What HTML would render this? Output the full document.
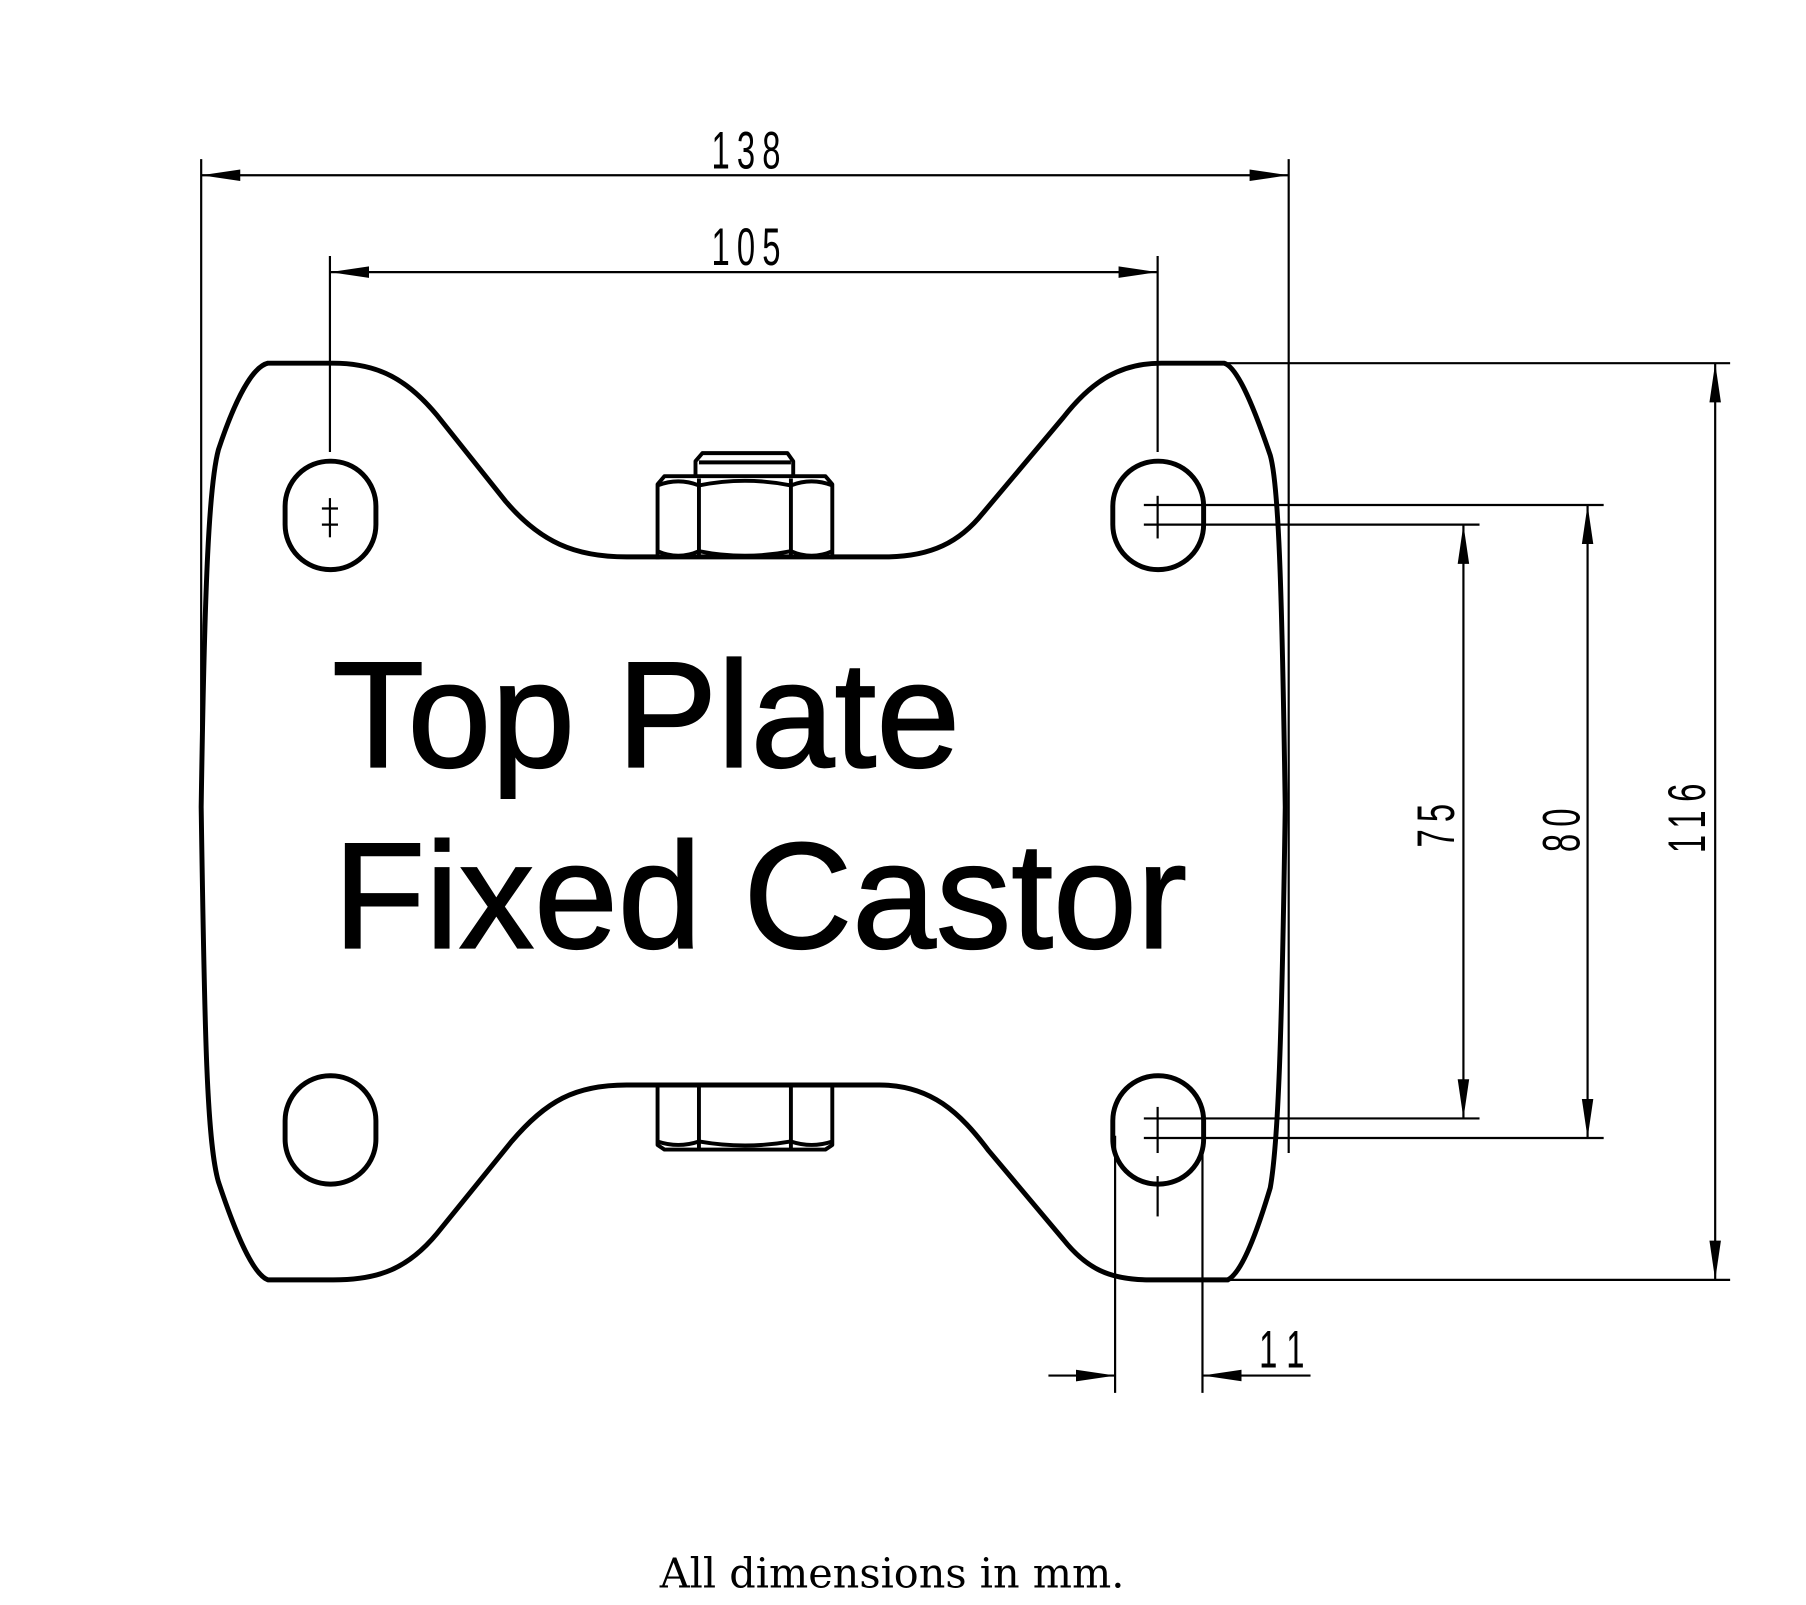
<!DOCTYPE html>
<html><head><meta charset="utf-8"><style>
html,body{margin:0;padding:0;background:#fff;}
svg{display:block}
</style></head><body>
<svg width="1806" height="1605" viewBox="0 0 1571 1392" preserveAspectRatio="none" xmlns="http://www.w3.org/2000/svg">
<rect width="1571" height="1392" fill="#fff"/>
<defs>
<marker id="a" viewBox="0 0 34 12" refX="34" refY="6" markerWidth="34" markerHeight="12" markerUnits="userSpaceOnUse" orient="auto-start-reverse">
<path d="M0,1 L34,6 L0,11 Z" fill="#000"/></marker>
</defs>
<g stroke="#000" stroke-width="1.9" fill="none">
<line x1="175" y1="138" x2="175" y2="690"/>
<line x1="1121" y1="138" x2="1121" y2="1000"/>
<line x1="175" y1="152" x2="1121" y2="152" marker-start="url(#a)" marker-end="url(#a)"/>
<line x1="287" y1="222" x2="287" y2="392"/>
<line x1="1007" y1="222" x2="1007" y2="392"/>
<line x1="287" y1="236" x2="1007" y2="236" marker-start="url(#a)" marker-end="url(#a)"/>
<line x1="1068" y1="315" x2="1505" y2="315"/>
<line x1="995" y1="438" x2="1395" y2="438"/>
<line x1="995" y1="455" x2="1287" y2="455"/>
<line x1="995" y1="970" x2="1287" y2="970"/>
<line x1="995" y1="987" x2="1395" y2="987"/>
<line x1="1068" y1="1110" x2="1505" y2="1110"/>
<line x1="1273" y1="455" x2="1273" y2="970" marker-start="url(#a)" marker-end="url(#a)"/>
<line x1="1381" y1="438" x2="1381" y2="987" marker-start="url(#a)" marker-end="url(#a)"/>
<line x1="1492" y1="315" x2="1492" y2="1110" marker-start="url(#a)" marker-end="url(#a)"/>
<line x1="970" y1="985" x2="970" y2="1208"/>
<line x1="1046" y1="995" x2="1046" y2="1208"/>
<line x1="912" y1="1193" x2="970" y2="1193" marker-end="url(#a)"/>
<line x1="1140" y1="1193" x2="1046" y2="1193" marker-end="url(#a)"/>
<line x1="287" y1="432" x2="287" y2="466"/>
<line x1="280" y1="441" x2="294" y2="441"/>
<line x1="280" y1="455" x2="294" y2="455"/>
<line x1="1007" y1="430" x2="1007" y2="467"/>
<line x1="1007" y1="960" x2="1007" y2="1000"/>
<line x1="1007" y1="1020" x2="1007" y2="1055"/>
</g>
<g stroke="#000" stroke-width="4.3" fill="none" stroke-linejoin="round">
<path d="M233,315 L290,315 C330,315 355,330 380,360 L440,435 C470,470 500,483 545,483 L770,483 C810,483 835,470 855,445 L925,362 C950,330 975,315 1010,315 L1065,315 C1075,318 1088,345 1105,395 C1112,420 1115,500 1118,700 C1115,900 1112,990 1105,1030 C1090,1080 1078,1105 1068,1110 L1000,1110 C965,1110 945,1100 925,1075 L860,998 C835,965 810,941 765,941 L545,941 C500,941 475,955 445,990 L380,1070 C355,1100 330,1110 290,1110 L233,1110 C220,1105 205,1070 190,1025 C180,990 178,900 175,700 C178,500 182,420 190,390 C205,345 220,318 233,315 Z"/>
<rect x="248" y="400" width="79" height="94" rx="39" ry="39"/>
<rect x="968" y="400" width="79" height="94" rx="39" ry="39"/>
<rect x="248" y="933" width="79" height="94" rx="39" ry="39"/>
<rect x="968" y="933" width="79" height="94" rx="39" ry="39"/>
</g>
<g stroke="#000" stroke-width="3.4" fill="none" stroke-linejoin="round">
<path d="M572,485 L572,420 L578,413 L718,413 L724,420 L724,485"/>
<line x1="608" y1="415" x2="608" y2="484"/>
<line x1="688" y1="415" x2="688" y2="484"/>
<path d="M572,421 Q590,414 608,421 Q648,413 688,421 Q706,414 724,421"/>
<path d="M572,478 Q590,486 608,478 Q648,486 688,478 Q706,486 724,478"/>
<path d="M605,412 L605,400 L611,393 L685,393 L690,400 L690,412"/>
<line x1="608" y1="401" x2="688" y2="401"/>
<path d="M572,943 L572,993 L578,997 L718,997 L724,993 L724,943"/>
<line x1="608" y1="943" x2="608" y2="996"/>
<line x1="688" y1="943" x2="688" y2="996"/>
<path d="M572,990 Q590,996 608,990 Q648,997 688,990 Q706,996 724,990"/>
</g>
<g font-family="'Liberation Sans Narrow','Liberation Sans',sans-serif" font-size="46" font-weight="300" fill="#000">
<text x="652" y="146" text-anchor="middle" transform="translate(652,0) scale(0.62,1) translate(-652,0)" letter-spacing="10">138</text>
<text x="652" y="230" text-anchor="middle" transform="translate(652,0) scale(0.62,1) translate(-652,0)" letter-spacing="10">105</text>
<text x="1120" y="1186" text-anchor="middle" transform="translate(1120,0) scale(0.62,1) translate(-1120,0)" letter-spacing="16">11</text>
<text transform="translate(1265,713) rotate(-90) scale(0.62,1)" text-anchor="middle" letter-spacing="10">75</text>
<text transform="translate(1374,717) rotate(-90) scale(0.62,1)" text-anchor="middle" letter-spacing="10">80</text>
<text transform="translate(1483,706) rotate(-90) scale(0.62,1)" text-anchor="middle" letter-spacing="12">116</text>
</g>
<g font-family="'Liberation Sans',Arial,sans-serif" font-size="131" fill="#000" stroke="#000" stroke-width="1.5">
<text x="289" y="665">Top Plate</text>
<text x="290" y="822">Fixed Castor</text>
</g>
<text x="776" y="1377" text-anchor="middle" font-family="'DejaVu Serif','Liberation Serif',serif" font-size="36" fill="#000">All dimensions in mm.</text>
</svg>
</body></html>
